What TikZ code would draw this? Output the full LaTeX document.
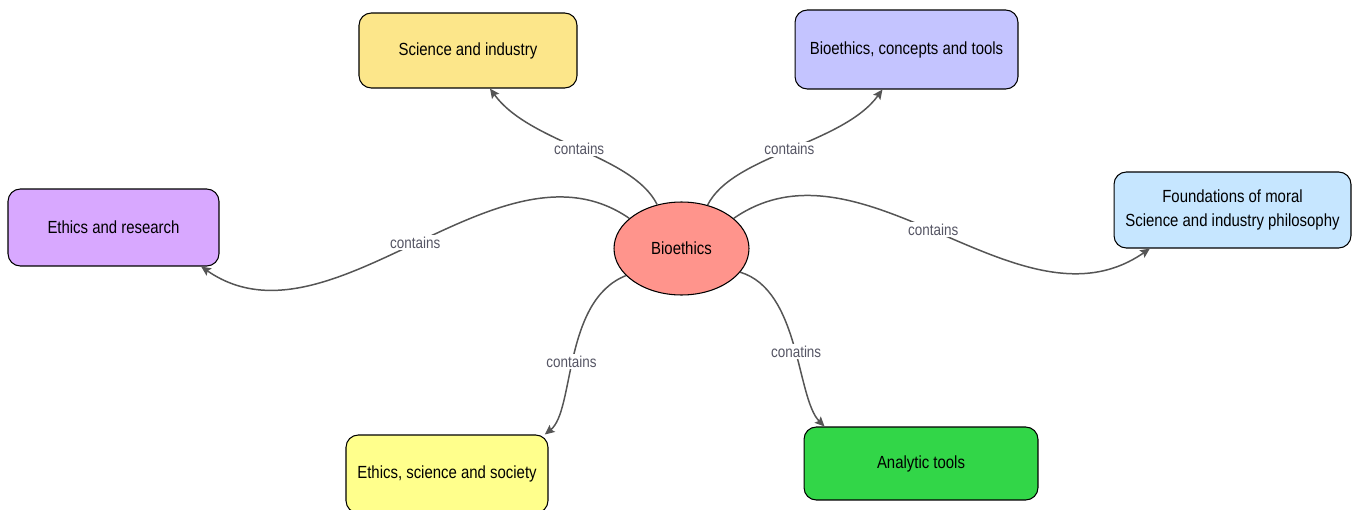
\documentclass[tikz,border=0pt]{standalone}
\usepackage{fontspec}
\setmainfont{Liberation Sans}[FakeStretch=0.85]
\usetikzlibrary{arrows.meta,shapes.geometric}

\definecolor{sciyellow}{RGB}{252,230,138}
\definecolor{conblue}{RGB}{196,196,255}
\definecolor{ethviolet}{RGB}{216,168,255}
\definecolor{fndblue}{RGB}{198,230,255}
\definecolor{biored}{RGB}{255,148,140}
\definecolor{socyellow}{RGB}{255,255,140}
\definecolor{anagreen}{RGB}{50,214,72}
\definecolor{linkgray}{RGB}{85,85,85}
\definecolor{labelgray}{RGB}{85,85,100}

\begin{document}
\begin{tikzpicture}[x=0.02cm,y=-0.02cm,>={Stealth[length=5.5pt,width=5pt,inset=1pt]},thick,
  topic node/.style={rectangle,rounded corners=7pt,draw=black,semithick,inner sep=0pt,
    font=\fontsize{10}{13.6}\selectfont,align=center},
  main node/.style={ellipse,draw=black,semithick,fill=biored,inner sep=0pt,
    minimum width=2.7cm,minimum height=1.86cm,font=\fontsize{10}{12}\selectfont},
  link/.style={->,draw=linkgray,line width=0.85pt},
  link label/.style={fill=white,inner sep=1pt,text=labelgray,font=\fontsize{9}{11}\selectfont}]

  \useasboundingbox (0,0) rectangle (1359,510);

  \node[main node] (bio) at (681.5,248.5) {Bioethics};
  \node[topic node,fill=sciyellow,minimum width=4.36cm,minimum height=1.5cm]  (sci) at (468,50.5) {Science and industry};
  \node[topic node,fill=conblue,minimum width=4.46cm,minimum height=1.58cm]   (con) at (906.5,49.5) {Bioethics, concepts and tools};
  \node[topic node,fill=ethviolet,minimum width=4.22cm,minimum height=1.54cm] (eth) at (113.5,227.5) {Ethics and research};
  \node[topic node,fill=fndblue,minimum width=4.74cm,minimum height=1.52cm]   (fnd) at (1232.5,210) {Foundations of moral\\Science and industry philosophy};
  \node[topic node,fill=socyellow,minimum width=4.04cm,minimum height=1.56cm] (soc) at (447,474) {Ethics, science and society};
  \node[topic node,fill=anagreen,minimum width=4.68cm,minimum height=1.46cm]  (ana) at (921,463.5) {Analytic tools};

  % links from the centre
  \draw[link] (bio.119) .. controls +(-25,-50) and +(40,55) .. node[link label] {contains} (sci.-60);
  \draw[link] (bio.59)  .. controls +(25,-50) and +(-40,55) .. node[link label] {contains} (con.-121);
  \draw[link] (bio.150) .. controls +(-130,-90) and +(130,90) .. node[link label] {contains} (eth.-24);
  \draw[link] (bio.30)  .. controls +(130,-90) and +(-130,90) .. node[link label,pos=0.48] {contains} (fnd.-155);
  \draw[link] (bio.206) .. controls +(-63,25) and +(30,-24) .. node[link label,pos=0.53] {contains} (soc.22);
  \draw[link] (bio.338) .. controls +(60,18) and +(-28,-28) .. node[link label,pos=0.53] {conatins} (ana.159);

\end{tikzpicture}
\end{document}
